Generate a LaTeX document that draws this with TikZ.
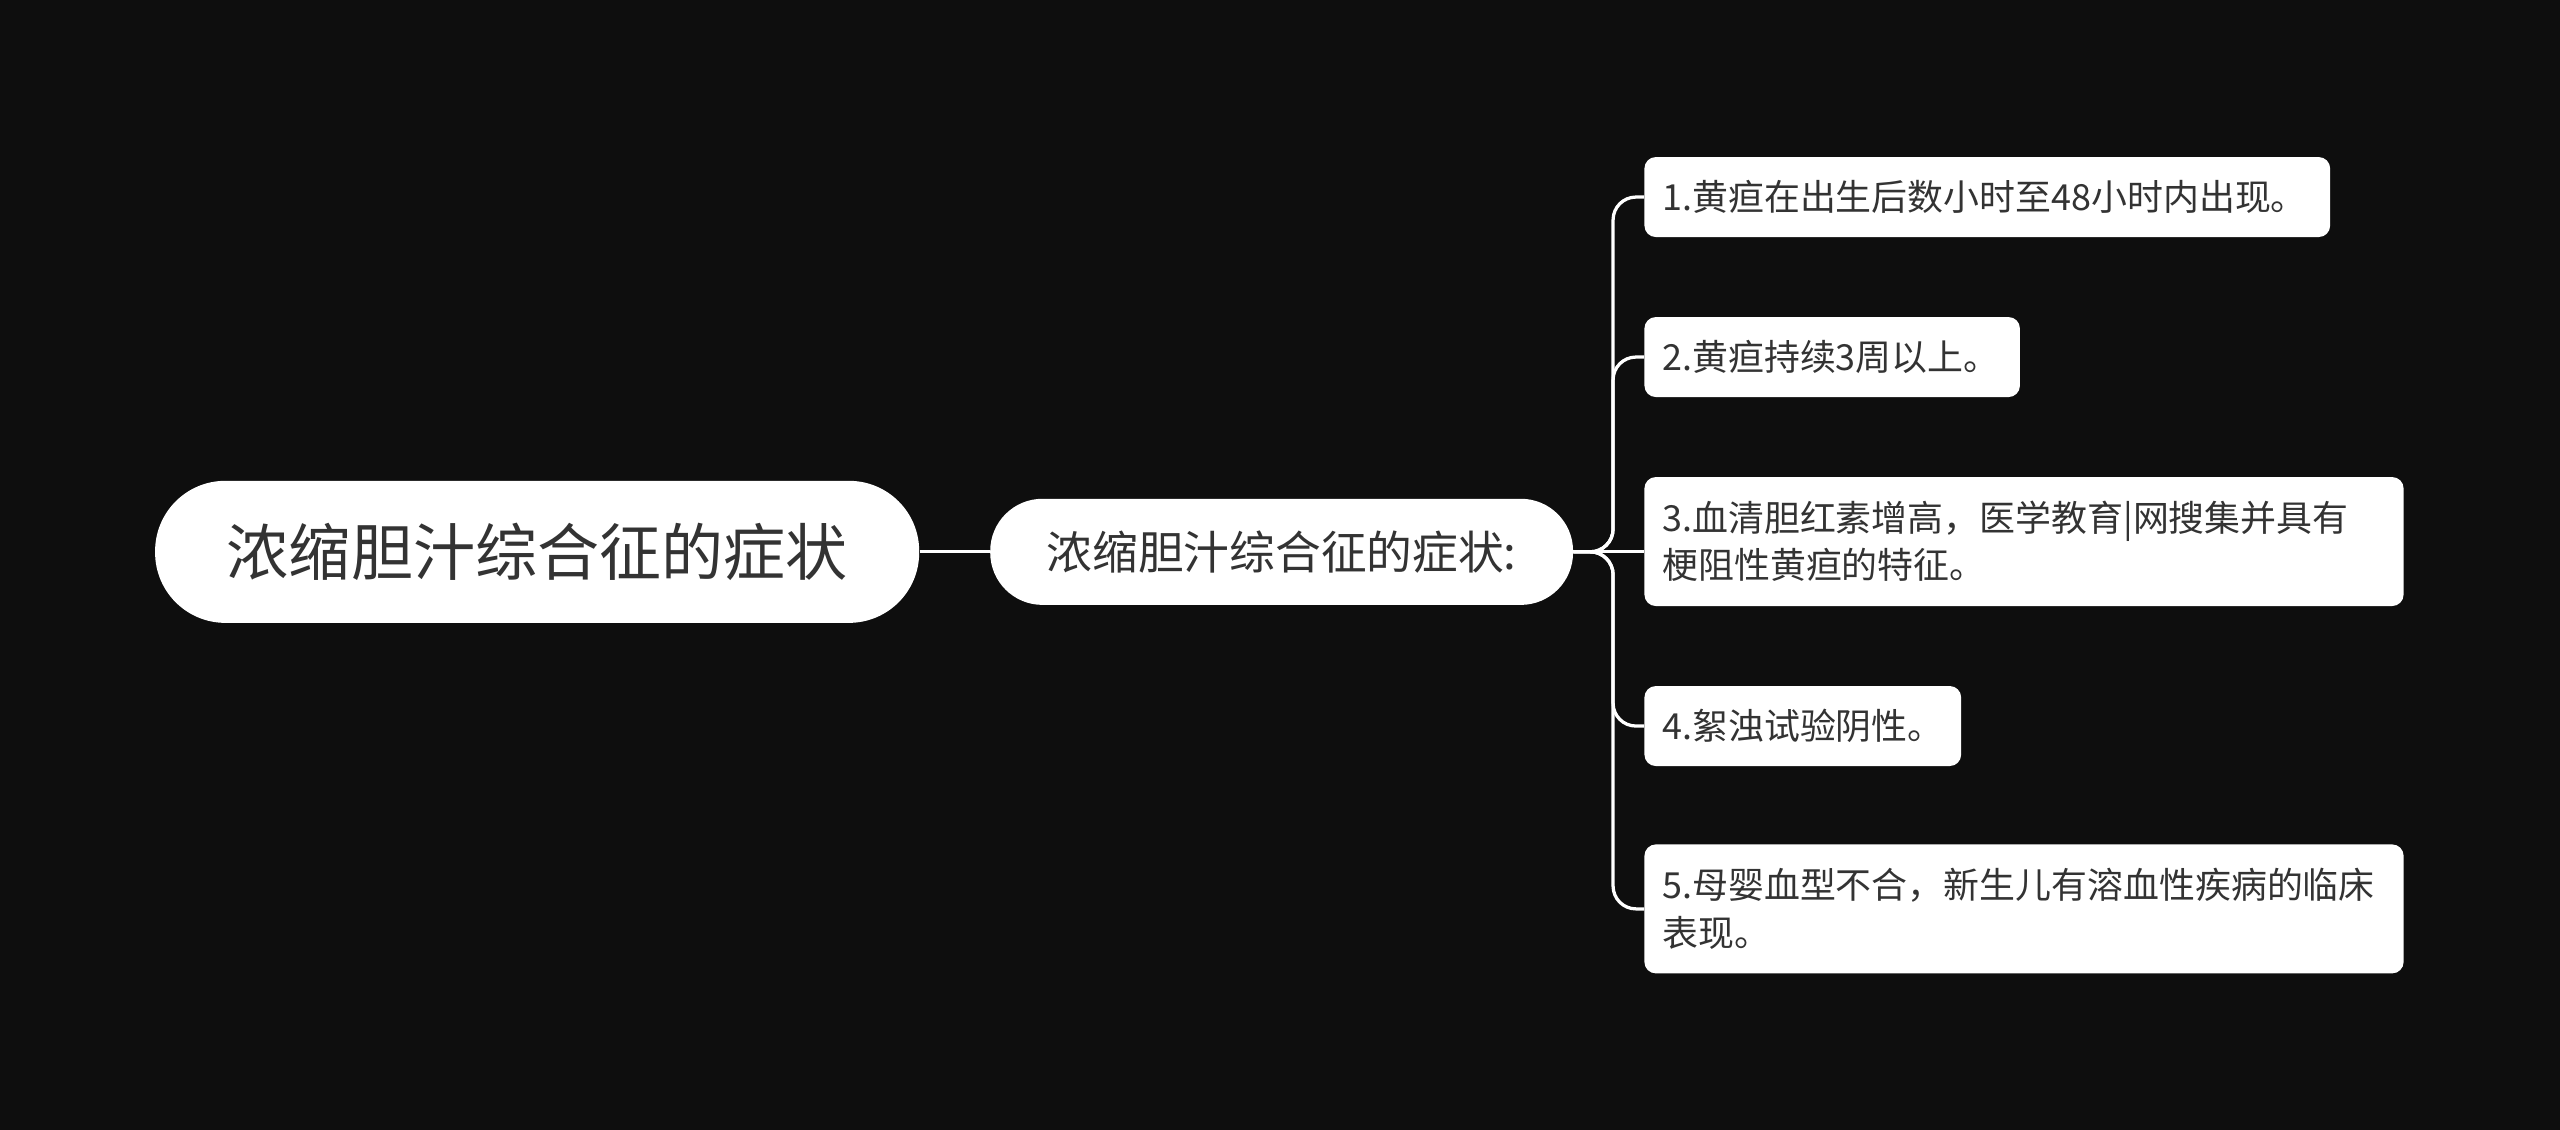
\documentclass[tikz,border=0pt]{standalone}
\usepackage{fontspec}
\setmainfont{Noto Sans CJK SC}
\begin{document}
\begin{tikzpicture}[x=1pt,y=-1pt,
  box/.style={fill=white,text=black!80,inner sep=0pt,anchor=center},
  leaf/.style={fill=white,text=black!80,rounded corners=7pt,anchor=north west,inner xsep=11pt,inner ysep=0pt,align=left,font=\fontsize{22}{29}\selectfont},
  conn/.style={draw=white,line width=2pt,rounded corners=14pt}]
\fill[fill={rgb,255:red,14;green,14;blue,14}] (0,0) rectangle (1568,692);
\useasboundingbox (0,0) rectangle (1568,692);
\node[box,rounded corners=43pt,minimum width=468pt,minimum height=87pt,font=\fontsize{38}{44}\selectfont] (root) at (329,338) {浓缩胆汁综合征的症状};
\node[box,rounded corners=32pt,minimum width=357pt,minimum height=65pt,font=\fontsize{28}{32}\selectfont] (mid) at (785,338) {浓缩胆汁综合征的症状:};
\draw[conn] (root.east) -- (mid.west);
\node[leaf,minimum height=49pt,text width=398pt] (l1) at (1007,96) {1.黄疸在出生后数小时至48小时内出现。};
\node[leaf,minimum height=49pt,text width=208pt] (l2) at (1007,194) {2.黄疸持续3周以上。};
\node[leaf,minimum height=79pt,text width=443pt] (l3) at (1007,292) {3.血清胆红素增高，医学教育|网搜集并具有\\梗阻性黄疸的特征。};
\node[leaf,minimum height=49pt,text width=172pt] (l4) at (1007,420) {4.絮浊试验阴性。};
\node[leaf,minimum height=79pt,text width=443pt] (l5) at (1007,517) {5.母婴血型不合，新生儿有溶血性疾病的临床\\表现。};
\coordinate (j) at (988,338);
\foreach \n in {l1,l2,l4,l5} \draw[conn] (mid.east) -- (j) -- (j |- \n.west) -- (\n.west);
\draw[conn] (mid.east) -- (l3.west |- mid.east);
\end{tikzpicture}
\end{document}
